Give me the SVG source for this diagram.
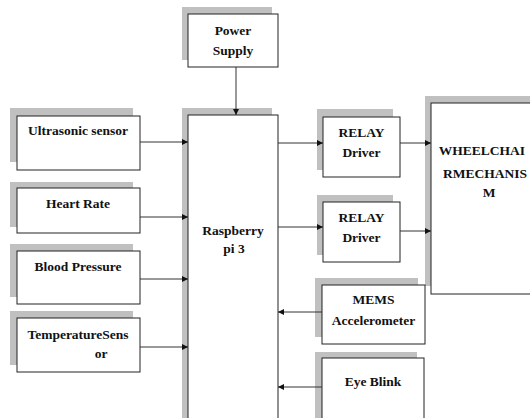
<svg xmlns="http://www.w3.org/2000/svg" width="530" height="418" viewBox="0 0 530 418">
<style>
.sh{fill:#c0c0c0;stroke:none}
.bx{fill:#fff;stroke:#222;stroke-width:1}
.t{font-family:"Liberation Serif","Times New Roman",serif;font-weight:bold;font-size:13.5px;fill:#111;text-anchor:middle}
.c{stroke:#333;stroke-width:1;fill:none}
</style>
<defs>
<marker id="ah" viewBox="0 0 8 8" refX="8" refY="4" markerWidth="6" markerHeight="6" markerUnits="userSpaceOnUse" orient="auto">
<path d="M0,0 L8,4 L0,8 z" fill="#111"/>
</marker>
</defs>
<rect width="530" height="418" fill="#fff"/>
<g id="power">
<rect class="sh" x="182" y="7" width="90" height="53"/>
<rect class="bx" x="188" y="14" width="90" height="53"/>
<text class="t" x="233" y="35">Power</text>
<text class="t" x="233" y="55">Supply</text>
</g>
<g id="ultrasonic">
<rect class="sh" x="10" y="108" width="123" height="54"/>
<rect class="bx" x="17" y="116" width="123" height="54"/>
<text class="t" x="78" y="135">Ultrasonic sensor</text>
</g>
<g id="heartrate">
<rect class="sh" x="10" y="182" width="123" height="45"/>
<rect class="bx" x="17" y="188" width="123" height="45"/>
<text class="t" x="78" y="208">Heart Rate</text>
</g>
<g id="bloodpressure">
<rect class="sh" x="10" y="244" width="123" height="53"/>
<rect class="bx" x="17" y="251" width="123" height="53"/>
<text class="t" x="78" y="271">Blood Pressure</text>
</g>
<g id="temperature">
<rect class="sh" x="10" y="311" width="123" height="54"/>
<rect class="bx" x="17" y="318" width="123" height="54"/>
<text class="t" x="78" y="339">TemperatureSens</text>
<text class="t" x="101" y="358">or</text>
</g>
<g id="raspberry">
<rect class="sh" x="182" y="108" width="90" height="320"/>
<rect class="bx" x="188" y="115" width="90" height="320"/>
<text class="t" x="233" y="235">Raspberry</text>
<text class="t" x="234" y="253">pi 3</text>
</g>
<g id="relay1">
<rect class="sh" x="317" y="109" width="76" height="61"/>
<rect class="bx" x="323" y="117" width="77" height="60"/>
<text class="t" x="361.5" y="137">RELAY</text>
<text class="t" x="361.5" y="157">Driver</text>
</g>
<g id="relay2">
<rect class="sh" x="317" y="195" width="76" height="60"/>
<rect class="bx" x="323" y="202" width="77" height="60"/>
<text class="t" x="361.5" y="222">RELAY</text>
<text class="t" x="361.5" y="242">Driver</text>
</g>
<g id="wheelchair">
<rect class="sh" x="425" y="96" width="130" height="190"/>
<rect class="bx" x="431" y="103" width="130" height="191"/>
<text class="t" x="482" y="155">WHEELCHAI</text>
<text class="t" x="485" y="178">RMECHANIS</text>
<text class="t" x="489" y="197">M</text>
</g>
<g id="mems">
<rect class="sh" x="315" y="278" width="103" height="59"/>
<rect class="bx" x="322" y="285" width="103" height="59"/>
<text class="t" x="373.5" y="304">MEMS</text>
<text class="t" x="373.5" y="325">Accelerometer</text>
</g>
<g id="eyeblink">
<rect class="sh" x="315" y="352" width="102" height="70"/>
<rect class="bx" x="322" y="358" width="102" height="70"/>
<text class="t" x="373" y="386">Eye Blink</text>
</g>
<g id="connectors">
<line class="c" x1="236" y1="67" x2="236" y2="115" marker-end="url(#ah)"/>
<line class="c" x1="140" y1="142" x2="188" y2="142" marker-end="url(#ah)"/>
<line class="c" x1="140" y1="217" x2="188" y2="217" marker-end="url(#ah)"/>
<line class="c" x1="140" y1="279" x2="188" y2="279" marker-end="url(#ah)"/>
<line class="c" x1="140" y1="347" x2="188" y2="347" marker-end="url(#ah)"/>
<line class="c" x1="278" y1="143" x2="323" y2="143" marker-end="url(#ah)"/>
<line class="c" x1="278" y1="227" x2="323" y2="227" marker-end="url(#ah)"/>
<line class="c" x1="400" y1="143" x2="431" y2="143" marker-end="url(#ah)"/>
<line class="c" x1="400" y1="231" x2="431" y2="231" marker-end="url(#ah)"/>
<line class="c" x1="322" y1="312" x2="278" y2="312" marker-end="url(#ah)"/>
<line class="c" x1="322" y1="387" x2="278" y2="387" marker-end="url(#ah)"/>
</g>
</svg>
